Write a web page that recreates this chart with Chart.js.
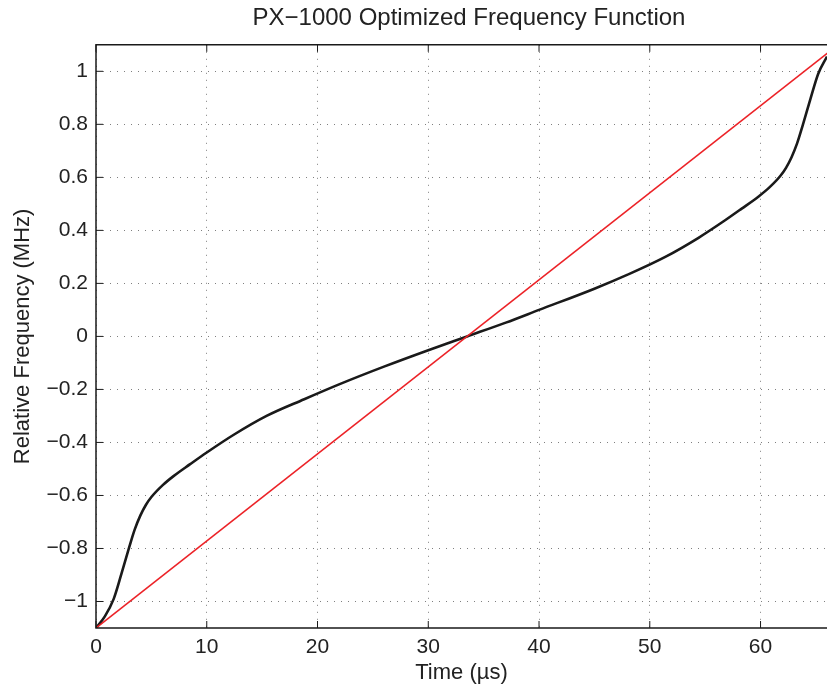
<!DOCTYPE html>
<html><head><meta charset="utf-8">
<script src="https://cdn.jsdelivr.net/npm/chart.js@4.4.1/dist/chart.umd.min.js"></script>
<style>html,body{margin:0;padding:0;background:#fff;overflow:hidden}#wrap{width:827px;height:688px;position:relative}</style>
</head><body><div id="wrap"><canvas id="c"></canvas></div>
<script>
const chartTitle = 'PX−1000 Optimized Frequency Function';
const xTitle = 'Time (µs)';
const yTitle = 'Relative Frequency (MHz)';
const xTickValues = [0, 10, 20, 30, 40, 50, 60];
const xTickLabels = ['0', '10', '20', '30', '40', '50', '60'];
const yTickValues = [-1, -0.8, -0.6, -0.4, -0.2, 0, 0.2, 0.4, 0.6, 0.8, 1];
const yTickLabels = ['−1', '−0.8', '−0.6', '−0.4', '−0.2', '0', '0.2', '0.4', '0.6', '0.8', '1'];
const xRange = [0, 66];
const yRange = [-1.1, 1.1];
// optimized (non-linear) frequency function, black
const optTime = [0, 0.8, 1.6, 2.3, 3.0, 3.5, 4.0, 4.5, 5.0, 6.0, 7.0, 8.5, 10, 12.4, 15.4, 18.8, 22, 26, 30, 33.5, 37, 40, 45, 48, 51.4, 54.4, 56.8, 58.3, 59.8, 60.8, 61.8, 62.3, 62.8, 63.3, 63.8, 64.5, 65.2, 66];
const optFreq = [-1.1, -1.056, -0.99, -0.895, -0.795, -0.728, -0.676, -0.636, -0.606, -0.562, -0.527, -0.482, -0.438, -0.372, -0.30, -0.237, -0.18, -0.114, -0.052, 0, 0.052, 0.10, 0.18, 0.233, 0.30, 0.372, 0.438, 0.482, 0.527, 0.562, 0.606, 0.636, 0.676, 0.728, 0.795, 0.895, 0.99, 1.056];
// linear frequency function, red
const linTime = [0, 67];
const linFreq = [-1.1, 1.1];

const FONT = '"Liberation Sans", Arial, Helvetica, sans-serif';
const toXY = (xs, ys) => xs.map((x, i) => ({x: x, y: ys[i]}));

const boxPlugin = {
  id: 'matlabBox',
  afterLayout(chart) {
    const t = chart.titleBlock;
    if (t) { t.left = chart.chartArea.left; t.right = chart.chartArea.right + 15; }
  },
  afterDatasetsDraw(chart) {
    const {ctx, chartArea: a, scales: {x, y}} = chart;
    ctx.save();
    ctx.strokeStyle = '#1a1a1a';
    ctx.lineWidth = 1.5;
    ctx.beginPath();
    ctx.moveTo(a.right + 2, a.top);
    ctx.lineTo(a.left, a.top);
    ctx.lineTo(a.left, a.bottom);
    ctx.lineTo(a.right + 2, a.bottom);
    ctx.stroke();
    ctx.lineWidth = 1;
    ctx.beginPath();
    xTickValues.forEach(v => {
      const px = x.getPixelForValue(v);
      ctx.moveTo(px, a.bottom); ctx.lineTo(px, a.bottom - 7);
      ctx.moveTo(px, a.top); ctx.lineTo(px, a.top + 7);
    });
    yTickValues.forEach(v => {
      const py = y.getPixelForValue(v);
      ctx.moveTo(a.left, py); ctx.lineTo(a.left + 7, py);
    });
    ctx.stroke();
    ctx.restore();
  }
};

new Chart(document.getElementById('c'), {
  type: 'scatter',
  data: {
    datasets: [
      {
        label: 'Linear',
        data: toXY(linTime, linFreq),
        showLine: true,
        borderColor: '#ec2227',
        borderWidth: 1.6,
        pointRadius: 0,
        fill: false
      },
      {
        label: 'Optimized',
        data: toXY(optTime, optFreq),
        showLine: true,
        borderColor: '#1a1a1a',
        borderWidth: 2.6,
        pointRadius: 0,
        cubicInterpolationMode: 'monotone',
        fill: false
      }
    ]
  },
  options: {
    responsive: true,
    maintainAspectRatio: false,
    animation: false,
    layout: {padding: {left: 0, right: 0, top: 0, bottom: 0}},
    plugins: {
      legend: {display: false},
      tooltip: {enabled: false},
      title: {
        display: true,
        text: chartTitle,
        color: '#222',
        font: {family: FONT, size: 24, weight: 'normal'},
        padding: {top: 4, bottom: 12}
      }
    },
    scales: {
      x: {
        type: 'linear',
        min: xRange[0], max: xRange[1],
        afterBuildTicks: s => { s.ticks = xTickValues.map(v => ({value: v})); },
        afterFit: s => { s.height = 60; },
        ticks: {
          color: '#222',
          font: {family: FONT, size: 21},
          padding: 7,
          maxRotation: 0,
          callback: (v, i) => xTickLabels[i]
        },
        grid: {color: 'rgba(0,0,0,0.5)', lineWidth: 1, drawTicks: false},
        border: {display: false, dash: [1, 6]},
        title: {
          display: true, text: xTitle, color: '#222',
          font: {family: FONT, size: 22},
          padding: {top: 0, bottom: 2}
        }
      },
      y: {
        type: 'linear',
        min: yRange[0], max: yRange[1],
        afterBuildTicks: s => { s.ticks = yTickValues.map(v => ({value: v})); },
        afterFit: s => { s.width = 96; },
        ticks: {
          color: '#222',
          font: {family: FONT, size: 21},
          padding: 8,
          callback: (v, i) => yTickLabels[i]
        },
        grid: {color: 'rgba(0,0,0,0.5)', lineWidth: 1, drawTicks: false},
        border: {display: false, dash: [1, 6]},
        title: {
          display: true, text: yTitle, color: '#222',
          font: {family: FONT, size: 22},
          padding: {top: 10, bottom: 0}
        }
      }
    }
  },
  plugins: [boxPlugin]
});
</script>
</body></html>
